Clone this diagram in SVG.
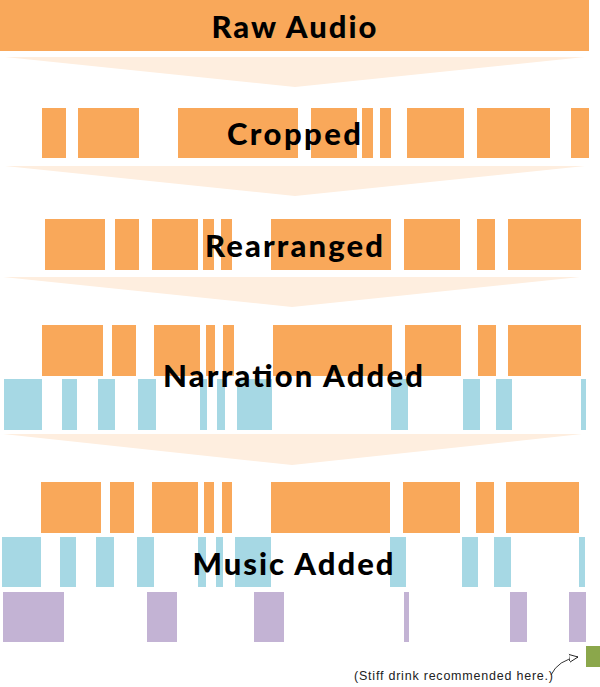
<svg xmlns="http://www.w3.org/2000/svg" width="600" height="687" viewBox="0 0 600 687">
<style>
.o{fill:#F9A85A}.b{fill:#A6D8E4}.p{fill:#C3B3D4}.a{fill:#FEEEDF}
.t{font-family:Lato,"Noto Sans",sans-serif;font-weight:900;font-size:31px;fill:#000;text-anchor:middle}
</style>
<defs><marker id="ah" markerWidth="10" markerHeight="10" refX="9" refY="5" orient="auto" markerUnits="userSpaceOnUse"><path d="M0,1 L9,5 L0,9 Z" fill="#fff" stroke="#000" stroke-width="0.8"/></marker></defs>
<g id="connectors">
<polygon class="a" points="5,57 585,57 295,87"/>
<polygon class="a" points="5,166 585,166 295,196"/>
<polygon class="a" points="3,277 580,277 292,307"/>
<polygon class="a" points="3,434 582,434 292,465"/>
<path d="M551,675 Q558,660 578,657" fill="none" stroke="#000" stroke-width="0.8" marker-end="url(#ah)"/>
</g>
<g id="raw"><rect class="o" x="0" y="0" width="589" height="51"/><text class="t" x="294" y="38" textLength="165">Raw Audio</text></g>
<g id="cropped">
<rect class="o" x="42" y="108" width="24" height="50"/><rect class="o" x="78" y="108" width="61" height="50"/><rect class="o" x="178" y="108" width="120" height="50"/><rect class="o" x="311" y="108" width="46" height="50"/><rect class="o" x="362" y="108" width="11" height="50"/><rect class="o" x="380" y="108" width="11" height="50"/><rect class="o" x="407" y="108" width="57" height="50"/><rect class="o" x="477" y="108" width="73" height="50"/><rect class="o" x="571" y="108" width="18" height="50"/>
<text class="t" x="294" y="145" textLength="134">Cropped</text></g>
<g id="rearranged">
<rect class="o" x="45" y="219" width="60" height="51"/><rect class="o" x="115" y="219" width="24" height="51"/><rect class="o" x="152" y="219" width="46" height="51"/><rect class="o" x="203" y="219" width="11" height="51"/><rect class="o" x="221" y="219" width="11" height="51"/><rect class="o" x="271" y="219" width="120" height="51"/><rect class="o" x="404" y="219" width="56" height="51"/><rect class="o" x="477" y="219" width="18" height="51"/><rect class="o" x="508" y="219" width="73" height="51"/>
<text class="t" x="294" y="257" textLength="178">Rearranged</text></g>
<g id="narration">
<rect class="o" x="42" y="325" width="61" height="51"/><rect class="o" x="112" y="325" width="24" height="51"/><rect class="o" x="154" y="325" width="46" height="51"/><rect class="o" x="206" y="325" width="9" height="51"/><rect class="o" x="223" y="325" width="11" height="51"/><rect class="o" x="273" y="325" width="119" height="51"/><rect class="o" x="405" y="325" width="56" height="51"/><rect class="o" x="478" y="325" width="18" height="51"/><rect class="o" x="508" y="325" width="73" height="51"/>
<rect class="b" x="4" y="379" width="38" height="51"/><rect class="b" x="62" y="379" width="15" height="51"/><rect class="b" x="98" y="379" width="17" height="51"/><rect class="b" x="138" y="379" width="18" height="51"/><rect class="b" x="200" y="379" width="7" height="51"/><rect class="b" x="217" y="379" width="8" height="51"/><rect class="b" x="237" y="379" width="35" height="51"/><rect class="b" x="391" y="379" width="17" height="51"/><rect class="b" x="463" y="379" width="17" height="51"/><rect class="b" x="496" y="379" width="16" height="51"/><rect class="b" x="581" y="379" width="5" height="51"/>
<text class="t" x="293" y="387" textLength="260">Narration Added</text></g>
<g id="music">
<rect class="o" x="41" y="482" width="60" height="51"/><rect class="o" x="110" y="482" width="24" height="51"/><rect class="o" x="152" y="482" width="46" height="51"/><rect class="o" x="204" y="482" width="10" height="51"/><rect class="o" x="222" y="482" width="10" height="51"/><rect class="o" x="271" y="482" width="119" height="51"/><rect class="o" x="403" y="482" width="57" height="51"/><rect class="o" x="476" y="482" width="18" height="51"/><rect class="o" x="506" y="482" width="73" height="51"/>
<rect class="b" x="2" y="537" width="39" height="50"/><rect class="b" x="60" y="537" width="16" height="50"/><rect class="b" x="96" y="537" width="18" height="50"/><rect class="b" x="137" y="537" width="17" height="50"/><rect class="b" x="198" y="537" width="8" height="50"/><rect class="b" x="216" y="537" width="7" height="50"/><rect class="b" x="235" y="537" width="36" height="50"/><rect class="b" x="390" y="537" width="16" height="50"/><rect class="b" x="462" y="537" width="16" height="50"/><rect class="b" x="494" y="537" width="17" height="50"/><rect class="b" x="579" y="537" width="6" height="50"/>
<rect class="p" x="3" y="592" width="61" height="50"/><rect class="p" x="147" y="592" width="30" height="50"/><rect class="p" x="254" y="592" width="30" height="50"/><rect class="p" x="404" y="592" width="5" height="50"/><rect class="p" x="510" y="592" width="17" height="50"/><rect class="p" x="569" y="592" width="17" height="50"/>
<text class="t" x="293" y="575" textLength="201">Music Added</text></g>
<g id="drink"><rect x="586" y="646" width="14" height="21" fill="#8BA74B"/>
<text x="354" y="680" font-family="Liberation Sans,Arial,sans-serif" font-size="12.5" fill="#222" textLength="199">(Stiff drink recommended here.)</text></g>
</svg>
